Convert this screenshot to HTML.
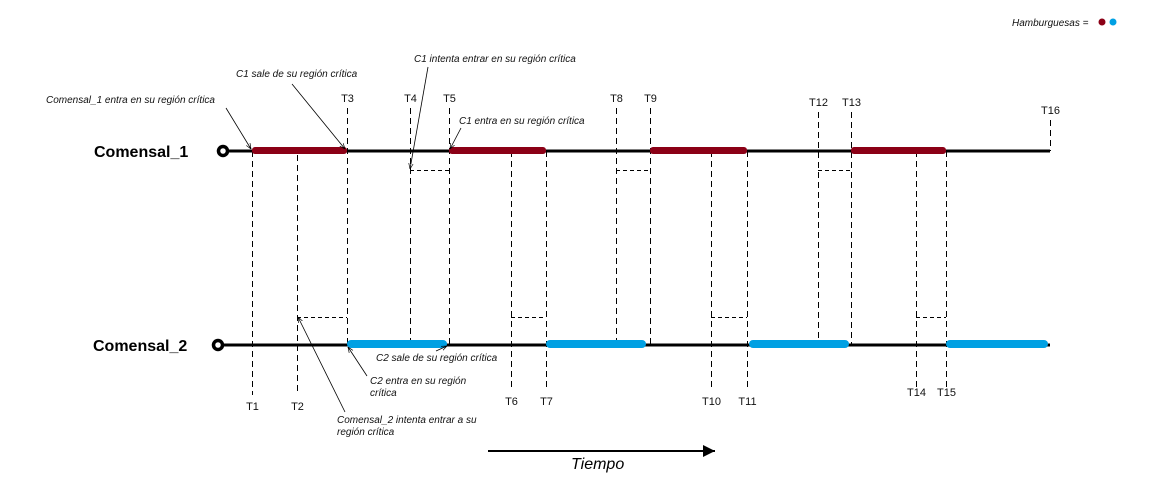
<!DOCTYPE html>
<html><head><meta charset="utf-8">
<style>
html,body{margin:0;padding:0;background:#fff;width:1171px;height:501px;overflow:hidden}
svg{display:block;font-family:"Liberation Sans",Arial,sans-serif}
.ann{font-size:10px;font-style:italic;fill:#111}
.tl{font-size:11px;fill:#111}
</style></head>
<body>
<svg id="chart" width="1171" height="501" viewBox="0 0 1171 501">
  <defs>
    <marker id="ah" viewBox="0 0 10 10" refX="10" refY="5" markerWidth="7" markerHeight="7" orient="auto">
      <path d="M0,1 L10,5 L0,9" fill="none" stroke="#000" stroke-width="1.2"/>
    </marker>
    <marker id="ta" viewBox="0 0 10 10" refX="10" refY="5" markerWidth="8" markerHeight="6" orient="auto">
      <path d="M0,0 L10,5 L0,10 z" fill="#000"/>
    </marker>
  </defs>
  <g id="legend">
    <text class="ann" x="1012" y="26">Hamburguesas =</text>
    <circle cx="1102" cy="22" r="3.5" fill="#8b0016"/>
    <circle cx="1113" cy="22" r="3.5" fill="#00a0e3"/>
  </g>
  <text x="94" y="157" font-size="16" font-weight="bold">Comensal_1</text>
  <text x="93" y="351" font-size="16" font-weight="bold">Comensal_2</text>
  <g id="marks" shape-rendering="crispEdges"></g>
  <g id="ann">
    <text class="ann" x="46" y="103">Comensal_1 entra en su región crítica</text>
    <line x1="226" y1="108" x2="251" y2="149" stroke="#000" stroke-width="0.8" marker-end="url(#ah)"/>
    <text class="ann" x="236" y="77">C1 sale de su región crítica</text>
    <line x1="292" y1="84" x2="345" y2="149" stroke="#000" stroke-width="0.8" marker-end="url(#ah)"/>
    <text class="ann" x="414" y="62">C1 intenta entrar en su región crítica</text>
    <line x1="428" y1="67" x2="410" y2="169" stroke="#000" stroke-width="0.8" marker-end="url(#ah)"/>
    <text class="ann" x="459" y="124">C1 entra en su región crítica</text>
    <line x1="461" y1="128" x2="450" y2="149" stroke="#000" stroke-width="0.8" marker-end="url(#ah)"/>
    <text class="ann" x="376" y="361">C2 sale de su región crítica</text>
    <line x1="436" y1="351" x2="447" y2="346" stroke="#000" stroke-width="0.8" marker-end="url(#ah)"/>
    <text class="ann" x="370" y="384">C2 entra en su región</text>
    <text class="ann" x="370" y="396">crítica</text>
    <line x1="367" y1="376" x2="348" y2="347" stroke="#000" stroke-width="0.8" marker-end="url(#ah)"/>
    <text class="ann" x="337" y="423">Comensal_2 intenta entrar a su</text>
    <text class="ann" x="337" y="435">región crítica</text>
    <line x1="345" y1="412" x2="298" y2="317" stroke="#000" stroke-width="0.8" marker-end="url(#ah)"/>
  </g>
  <line x1="488" y1="451" x2="715" y2="451" stroke="#000" stroke-width="2" marker-end="url(#ta)"/>
  <text x="571" y="469" font-size="16" font-style="italic">Tiempo</text>
</svg>
<script>
const tickLabels=["T1","T2","T3","T4","T5","T6","T7","T8","T9","T10","T11","T12","T13","T14","T15","T16"];
const tickTimes=[0,45,95,158,197,259,294,364,398,459,495,566,599,664,694,798];
const c1Regions=[[0,95],[197,294],[398,495],[599,694]];
const c2Regions=[[95,195],[294,394],[497,597],[694,796]];
const c1Waits=[[158,197],[364,398],[566,599]];
const c2Waits=[[45,95],[259,294],[459,495],[664,694]];
const NS="http://www.w3.org/2000/svg";
const xs=t=>252+t;
const Y1=151,Y2=345,tEnd=798;
const g=document.getElementById('marks');
function el(tag,at){const e=document.createElementNS(NS,tag);for(const k in at)e.setAttribute(k,at[k]);g.appendChild(e);return e;}
tickTimes.forEach((t,i)=>{
  const x=xs(t)+0.5;const n=i+1;
  let top,bot,ly;
  const up=[3,4,5,8,9,12,13,16].includes(n);
  if(up){top=(n>=12?112:108);if(n==16)top=120;bot=(n==16?151:345);ly=top-6;}
  else{top=151;bot=(n<=2?395:390);ly=bot+15;if(n>=14)ly=bot+6;}
  if(n==2)top=155;
  const l=el('line',{x1:x,y1:top,x2:x,y2:bot,stroke:'#000','stroke-width':1,'stroke-dasharray':'6,4'});
  
  
  const tx=el('text',{x:x,y:ly,'text-anchor':'middle',class:'tl'});
  tx.textContent=tickLabels[i];
  
  
});
c1Waits.forEach(w=>{const l=el('line',{x1:xs(w[0]),y1:170.5,x2:xs(w[1]),y2:170.5,stroke:'#000','stroke-width':1,'stroke-dasharray':'4,3'});
  
  });
c2Waits.forEach(w=>{const l=el('line',{x1:xs(w[0]),y1:317.5,x2:xs(w[1]),y2:317.5,stroke:'#000','stroke-width':1,'stroke-dasharray':'4,3'});
  
  });
const a=el('line',{x1:228,y1:Y1,x2:xs(tEnd),y2:Y1,stroke:'#000','stroke-width':3});


const b=el('line',{x1:223,y1:Y2,x2:xs(tEnd),y2:Y2,stroke:'#000','stroke-width':3});


const c=el('circle',{cx:223,cy:Y1,r:4.5,fill:'#fff',stroke:'#000','stroke-width':3.5,'shape-rendering':'auto'});


const d=el('circle',{cx:218,cy:Y2,r:4.5,fill:'#fff',stroke:'#000','stroke-width':3.5,'shape-rendering':'auto'});


c1Regions.forEach(r=>{const l=el('rect',{x:xs(r[0]),y:Y1-4,width:xs(r[1])-xs(r[0]),height:7,rx:3,fill:'#8b0016','shape-rendering':'auto'});
  
  });
c2Regions.forEach(r=>{const l=el('rect',{x:xs(r[0]),y:Y2-5,width:xs(r[1])-xs(r[0]),height:8,rx:4,fill:'#00a0e3','shape-rendering':'auto'});
  
  });
</script>
</body></html>
